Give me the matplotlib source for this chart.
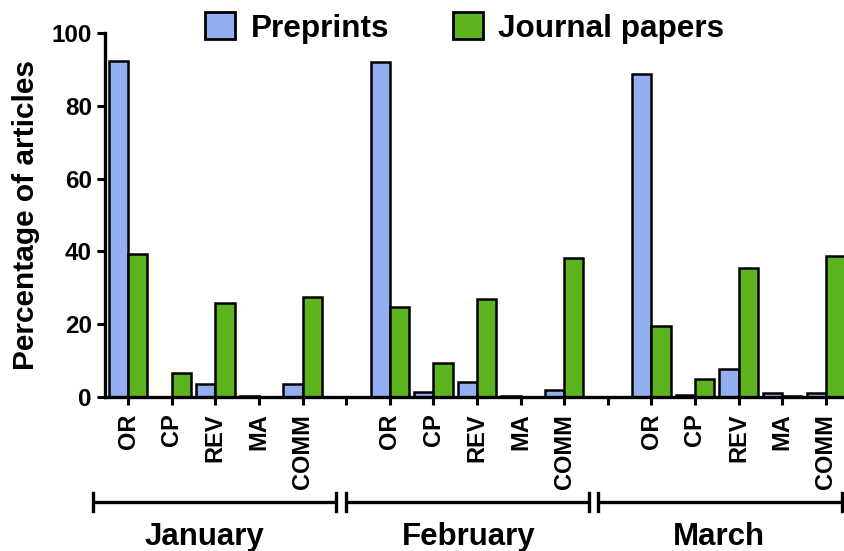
import matplotlib
matplotlib.use("Agg")
import matplotlib.pyplot as plt
import matplotlib.transforms as mtransforms
from matplotlib.patches import Patch
import numpy as np

plt.rcParams['font.family'] = ['Liberation Sans', 'DejaVu Sans']
plt.rcParams['font.weight'] = 'bold'

months = ["January", "February", "March"]
categories = ["OR", "CP", "REV", "MA", "COMM"]

# percentages, one list per month in category order
preprints = [
    [92.3, 0.0, 3.5, 0.3, 3.6],
    [91.9, 1.5, 4.2, 0.2, 1.8],
    [88.8, 0.5, 7.8, 1.0, 1.0],
]
journals = [
    [39.4, 6.7, 25.7, 0.0, 27.5],
    [24.6, 9.3, 26.9, 0.0, 38.3],
    [19.5, 5.0, 35.4, 0.4, 38.8],
]

blue = "#94aef2"
green = "#5db41f"

fig = plt.figure(figsize=(8.45, 5.51), dpi=100)
ax = fig.add_axes([105 / 845, 1 - 397 / 551, 740 / 845, 364 / 551])

# slot layout: 5 categories per month, one empty slot between months
slot = 0
tick_pos, tick_lab = [], []
for m in range(len(months)):
    for c, cat in enumerate(categories):
        x = slot
        ax.bar(x - 0.22, preprints[m][c], width=0.44, color=blue,
               edgecolor="black", linewidth=1.8, zorder=2)
        ax.bar(x + 0.22, journals[m][c], width=0.44, color=green,
               edgecolor="black", linewidth=1.8, zorder=2)
        tick_pos.append(x)
        tick_lab.append(cat)
        slot += 1
    if m < len(months) - 1:
        tick_pos.append(slot)
        tick_lab.append("")
        slot += 1

ax.set_xlim(-0.53, 16.44)
ax.set_ylim(0, 100)
ax.set_yticks([0, 20, 40, 60, 80, 100])
ax.set_xticks(tick_pos)
ax.set_xticklabels(tick_lab, rotation=90, fontsize=17, fontweight="bold")
ax.tick_params(axis="y", labelsize=17.5, width=2.2, length=6, direction="out")
ax.tick_params(axis="x", width=2.2, length=6, direction="out", pad=6)
for lab in ax.get_yticklabels():
    lab.set_fontweight("bold")

for s in ["top", "right"]:
    ax.spines[s].set_visible(False)
for s in ["left", "bottom"]:
    ax.spines[s].set_linewidth(2.4)

ax.set_ylabel("Percentage of articles", fontsize=21.5, fontweight="bold", labelpad=8)

# month brackets below the category labels
trans = mtransforms.blended_transform_factory(ax.transData, ax.transAxes)
spans = [(-0.80, 4.77), (5.0, 10.57), (10.78, 16.38)]
label_x = [1.74, 7.82, 13.56]
y_line, y_lo, y_hi, y_txt = -0.288, -0.312, -0.264, -0.385
for (a, b), lx, name in zip(spans, label_x, months):
    ax.plot([a, b], [y_line, y_line], color="black", lw=2.4,
            transform=trans, clip_on=False, solid_capstyle="butt")
    for e in (a, b):
        ax.plot([e, e], [y_lo, y_hi], color="black", lw=2.4,
                transform=trans, clip_on=False)
    ax.text(lx, y_txt, name, transform=trans, ha="center", va="center",
            fontsize=22.5, fontweight="bold")

handles = [Patch(facecolor=blue, edgecolor="black", linewidth=2.0, label="Preprints"),
           Patch(facecolor=green, edgecolor="black", linewidth=2.0, label="Journal papers")]
fig.legend(handles=handles, loc="upper center", bbox_to_anchor=(465 / 845, 1.012),
           ncol=2, frameon=False, prop={"size": 22.7, "weight": "bold"},
           handlelength=0.95, handleheight=0.95, handletextpad=0.5,
           columnspacing=2.0, borderaxespad=0.2)

fig.savefig("out.png", dpi=100)
